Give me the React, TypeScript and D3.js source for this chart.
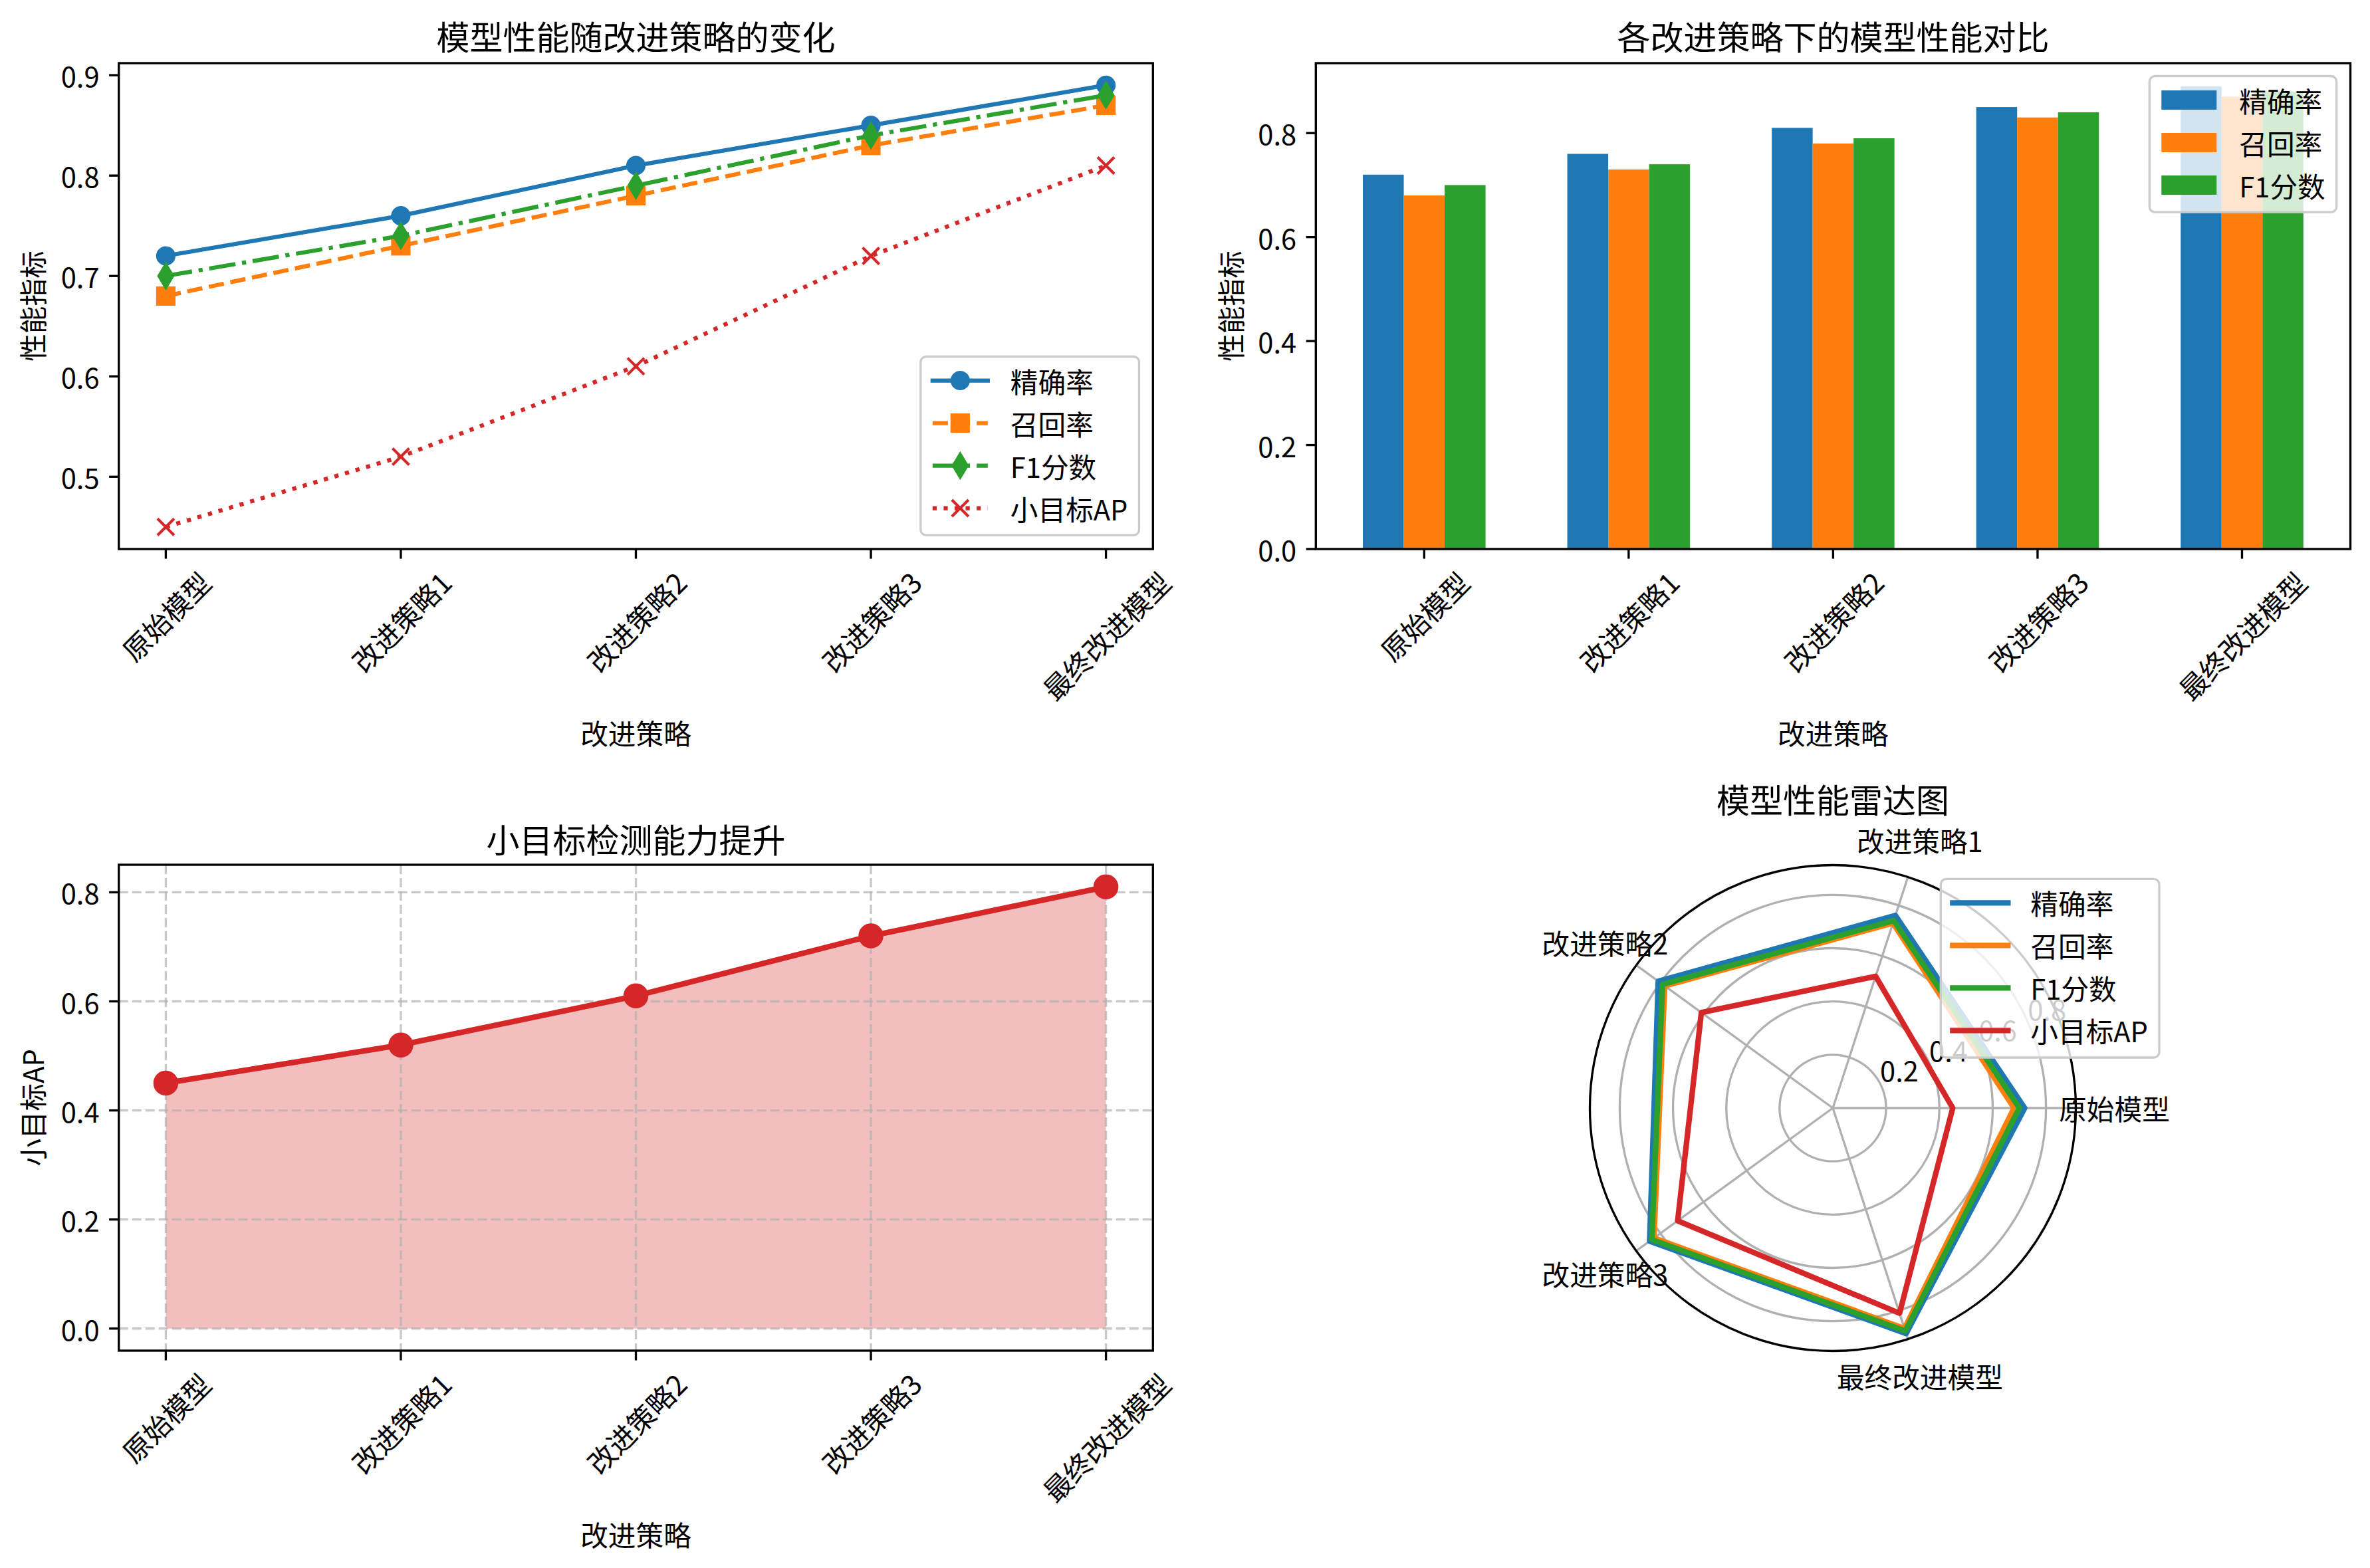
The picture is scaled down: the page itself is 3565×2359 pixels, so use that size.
import React from 'react';
import * as d3 from 'd3';

// ---------------- data ----------------
const categories = ['原始模型', '改进策略1', '改进策略2', '改进策略3', '最终改进模型'];
const precision = [0.72, 0.76, 0.81, 0.85, 0.89];
const recall = [0.68, 0.73, 0.78, 0.83, 0.87];
const f1Score = [0.70, 0.74, 0.79, 0.84, 0.88];
const smallAP = [0.45, 0.52, 0.61, 0.72, 0.81];
const seriesNames = ['精确率', '召回率', 'F1分数', '小目标AP'];
const seriesColors = ['#1f77b4', '#ff7f0e', '#2ca02c', '#d62728'];
const lineYTicks = [0.5, 0.6, 0.7, 0.8, 0.9];
const barYTicks = [0.0, 0.2, 0.4, 0.6, 0.8];
const apYTicks = [0.0, 0.2, 0.4, 0.6, 0.8];
const radarRTicks = [0.2, 0.4, 0.6, 0.8];
const titles = ['模型性能随改进策略的变化', '各改进策略下的模型性能对比', '小目标检测能力提升', '模型性能雷达图'];
const xLabelText = '改进策略';
const yLabels = ['性能指标', '性能指标', '小目标AP'];

// ---------------- style constants ----------------
const FONT = '"Noto Sans CJK SC", "Noto Sans", sans-serif';
const FS = 41.67;
const TFS = 50;
const LW = 6.25;
const SPINE = 3.33;
const TICK = 14.58;
const PAD = 14.58;
const MEW = 4.17;

let _ctx: CanvasRenderingContext2D | null = null;
function tw(s: string, size = FS): number {
  if (!_ctx && typeof document !== 'undefined') {
    _ctx = document.createElement('canvas').getContext('2d');
  }
  if (_ctx) {
    _ctx.font = `${size}px "Noto Sans CJK SC"`;
    return _ctx.measureText(s).width;
  }
  let w = 0;
  for (const ch of s) w += /[\u4e00-\u9fff]/.test(ch) ? size : size * 0.58;
  return w;
}

const fmt = d3.format('.1f');

type Box = { x0: number; x1: number; y0: number; y1: number };
const TL: Box = { x0: 178.7, x1: 1734.3, y0: 95, y1: 826 };
const TR: Box = { x0: 1979.3, x1: 3535.5, y0: 95, y1: 826 };
const BL: Box = { x0: 178.7, x1: 1734.3, y0: 1301, y1: 2032 };
const RADAR = { cx: 2757, cy: 1667, R: 365.5 };

function Marker({ type, x, y, color, size }: { type: string; x: number; y: number; color: string; size: number }) {
  if (type === 'o') return <circle cx={x} cy={y} r={size / 2} fill={color} stroke={color} strokeWidth={MEW} />;
  if (type === 's')
    return <rect x={x - size / 2} y={y - size / 2} width={size} height={size} fill={color} stroke={color} strokeWidth={MEW} strokeLinejoin="miter" />;
  if (type === 'd') {
    const h = size * 0.7071;
    const w = size * 0.4243;
    return <path d={`M${x},${y - h}L${x + w},${y}L${x},${y + h}L${x - w},${y}Z`} fill={color} stroke={color} strokeWidth={MEW} strokeLinejoin="miter" />;
  }
  if (type === 'x') {
    const s = size / 2;
    return <path d={`M${x - s},${y - s}L${x + s},${y + s}M${x - s},${y + s}L${x + s},${y - s}`} fill="none" stroke={color} strokeWidth={MEW} />;
  }
  return null;
}

function Frame({ b }: { b: Box }) {
  return <rect x={b.x0} y={b.y0} width={b.x1 - b.x0} height={b.y1 - b.y0} fill="none" stroke="#000" strokeWidth={SPINE} />;
}

function XAxis({ b, xs }: { b: Box; xs: number[] }) {
  return (
    <g>
      {xs.map((x, i) => {
        const w = tw(categories[i]);
        const cy = b.y1 + TICK + PAD + (w + 35) * 0.35355;
        return (
          <g key={i}>
            <line x1={x} x2={x} y1={b.y1} y2={b.y1 + TICK} stroke="#000" strokeWidth={SPINE} />
            <text transform={`translate(${x},${cy}) rotate(-45)`} textAnchor="middle" dominantBaseline="central" fontSize={FS}>
              {categories[i]}
            </text>
          </g>
        );
      })}
      <text x={(b.x0 + b.x1) / 2} y={b.y1 + 276} textAnchor="middle" dominantBaseline="central" fontSize={FS}>
        {xLabelText}
      </text>
    </g>
  );
}

function YAxis({ b, y, ticks, label, labelX }: { b: Box; y: d3.ScaleLinear<number, number>; ticks: number[]; label: string; labelX: number }) {
  return (
    <g>
      {ticks.map((t, i) => (
        <g key={i}>
          <line x1={b.x0 - TICK} x2={b.x0} y1={y(t)} y2={y(t)} stroke="#000" strokeWidth={SPINE} />
          <text x={b.x0 - TICK - PAD} y={y(t)} textAnchor="end" dominantBaseline="central" fontSize={FS}>
            {fmt(t)}
          </text>
        </g>
      ))}
      <text transform={`translate(${labelX},${(b.y0 + b.y1) / 2}) rotate(-90)`} textAnchor="middle" dominantBaseline="central" fontSize={FS}>
        {label}
      </text>
    </g>
  );
}

type LegendEntry = { label: string; color: string; kind: 'line' | 'bar'; dash?: string; marker?: string; lw?: number };

function Legend({ right, top, bottom, entries }: { right: number; top?: number; bottom?: number; entries: LegendEntry[] }) {
  const maxW = Math.max(...entries.map((e) => tw(e.label)));
  const width = 135 + maxW + 17;
  const height = 36 + (entries.length - 1) * 64 + 40.7;
  const left = right - width;
  const t = top !== undefined ? top : (bottom as number) - height;
  return (
    <g>
      <rect x={left} y={t} width={width} height={height} rx={8.3} ry={8.3} fill="#fff" fillOpacity={0.8} stroke="#cccccc" strokeWidth={3.33} />
      {entries.map((e, i) => {
        const cy = t + 36 + i * 64;
        const hx0 = left + 18;
        const hx1 = left + 101;
        return (
          <g key={i}>
            {e.kind === 'bar' ? (
              <rect x={hx0} y={cy - 14.5} width={83} height={29} fill={e.color} />
            ) : (
              <>
                <line
                  x1={hx0}
                  x2={hx1}
                  y1={cy}
                  y2={cy}
                  stroke={e.color}
                  strokeWidth={e.lw ?? LW}
                  strokeDasharray={e.dash}
                  strokeLinecap={e.dash ? 'butt' : 'square'}
                />
                {e.marker && <Marker type={e.marker} x={(hx0 + hx1) / 2} y={cy} color={e.color} size={25} />}
              </>
            )}
            <text x={left + 135} y={cy} dominantBaseline="central" fontSize={FS}>
              {e.label}
            </text>
          </g>
        );
      })}
    </g>
  );
}

// ---------------- panel 1: lines ----------------
function LinePanel() {
  const b = TL;
  const x = d3.scaleLinear().domain([-0.2, 4.2]).range([b.x0, b.x1]);
  const y = d3.scaleLinear().domain([0.428, 0.912]).range([b.y1, b.y0]);
  const data = [precision, recall, f1Score, smallAP];
  const dashes = [undefined, '23.1,10', '40,10,6.25,10', '6.25,10.3'];
  const markers = ['o', 's', 'd', 'x'];
  const line = d3
    .line<number>()
    .x((_, i) => x(i))
    .y((d) => y(d));
  const xs = categories.map((_, i) => x(i));
  return (
    <g>
      {data.map((s, k) => (
        <g key={k}>
          <path
            d={line(s) as string}
            fill="none"
            stroke={seriesColors[k]}
            strokeWidth={LW}
            strokeDasharray={dashes[k]}
            strokeLinejoin="round"
            strokeLinecap={dashes[k] ? 'butt' : 'square'}
          />
          {s.map((v, i) => (
            <Marker key={i} type={markers[k]} x={x(i)} y={y(v)} color={seriesColors[k]} size={25} />
          ))}
        </g>
      ))}
      <Frame b={b} />
      <XAxis b={b} xs={xs} />
      <YAxis b={b} y={y} ticks={lineYTicks} label={yLabels[0]} labelX={48} />
      <text x={(b.x0 + b.x1) / 2} y={b.y0 - 42} textAnchor="middle" dominantBaseline="central" fontSize={TFS}>
        {titles[0]}
      </text>
      <Legend
        right={b.x1 - 20.8}
        bottom={b.y1 - 20.8}
        entries={seriesNames.map((n, k) => ({ label: n, color: seriesColors[k], kind: 'line', dash: dashes[k], marker: markers[k] }))}
      />
    </g>
  );
}

// ---------------- panel 2: bars ----------------
function BarPanel() {
  const b = TR;
  const x = d3.scaleLinear().domain([-0.53, 4.53]).range([b.x0, b.x1]);
  const y = d3.scaleLinear().domain([0, 0.9345]).range([b.y1, b.y0]);
  const data = [precision, recall, f1Score];
  const offsets = [-0.2, 0, 0.2];
  const bw = 0.2;
  const xs = categories.map((_, i) => x(i));
  return (
    <g>
      {data.map((s, k) =>
        s.map((v, i) => (
          <rect
            key={`${k}-${i}`}
            x={x(i + offsets[k] - bw / 2)}
            y={y(v)}
            width={x(i + offsets[k] + bw / 2) - x(i + offsets[k] - bw / 2)}
            height={y(0) - y(v)}
            fill={seriesColors[k]}
          />
        ))
      )}
      <Frame b={b} />
      <XAxis b={b} xs={xs} />
      <YAxis b={b} y={y} ticks={barYTicks} label={yLabels[1]} labelX={1850} />
      <text x={(b.x0 + b.x1) / 2} y={b.y0 - 42} textAnchor="middle" dominantBaseline="central" fontSize={TFS}>
        {titles[1]}
      </text>
      <Legend
        right={b.x1 - 20.8}
        top={b.y0 + 19.5}
        entries={seriesNames.slice(0, 3).map((n, k) => ({ label: n, color: seriesColors[k], kind: 'bar' }))}
      />
    </g>
  );
}

// ---------------- panel 3: area ----------------
function AreaPanel() {
  const b = BL;
  const x = d3.scaleLinear().domain([-0.2, 4.2]).range([b.x0, b.x1]);
  const y = d3.scaleLinear().domain([-0.0405, 0.8505]).range([b.y1, b.y0]);
  const area = d3
    .area<number>()
    .x((_, i) => x(i))
    .y0(y(0))
    .y1((d) => y(d));
  const line = d3
    .line<number>()
    .x((_, i) => x(i))
    .y((d) => y(d));
  const xs = categories.map((_, i) => x(i));
  const gridColor = '#b0b0b0';
  return (
    <g>
      <path d={area(smallAP) as string} fill="#d62728" fillOpacity={0.3} />
      <g stroke={gridColor} strokeOpacity={0.7} strokeWidth={3.33} strokeDasharray="14,6">
        {xs.map((gx, i) => (
          <line key={`gx${i}`} x1={gx} x2={gx} y1={b.y0} y2={b.y1} />
        ))}
        {apYTicks.map((t, i) => (
          <line key={`gy${i}`} x1={b.x0} x2={b.x1} y1={y(t)} y2={y(t)} />
        ))}
      </g>
      <path d={line(smallAP) as string} fill="none" stroke="#d62728" strokeWidth={8.33} strokeLinejoin="round" strokeLinecap="square" />
      {smallAP.map((v, i) => (
        <Marker key={i} type="o" x={x(i)} y={y(v)} color="#d62728" size={33.3} />
      ))}
      <Frame b={b} />
      <XAxis b={b} xs={xs} />
      <YAxis b={b} y={y} ticks={apYTicks} label={yLabels[2]} labelX={48} />
      <text x={(b.x0 + b.x1) / 2} y={b.y0 - 40} textAnchor="middle" dominantBaseline="central" fontSize={TFS}>
        {titles[2]}
      </text>
    </g>
  );
}

// ---------------- panel 4: radar ----------------
function RadarPanel() {
  const { cx, cy, R } = RADAR;
  const r = d3.scaleLinear().domain([0, 0.912]).range([0, R]);
  const n = categories.length;
  const theta = (i: number) => (i * 2 * Math.PI) / n;
  const pt = (i: number, rad: number) => [cx + rad * Math.cos(theta(i)), cy - rad * Math.sin(theta(i))];
  const radial = d3
    .lineRadial<number>()
    .angle((_, i) => Math.PI / 2 - theta(i))
    .radius((d) => r(d))
    .curve(d3.curveLinearClosed);
  const data = [precision, recall, f1Score, smallAP];
  const grid = '#b0b0b0';
  const labelR = R + 58;
  const rlabAng = (22.5 * Math.PI) / 180;
  return (
    <g>
      {radarRTicks.map((t, i) => (
        <circle key={i} cx={cx} cy={cy} r={r(t)} fill="none" stroke={grid} strokeWidth={3.33} />
      ))}
      {categories.map((_, i) => {
        const [px, py] = pt(i, R);
        return <line key={i} x1={cx} y1={cy} x2={px} y2={py} stroke={grid} strokeWidth={3.33} />;
      })}
      <circle cx={cx} cy={cy} r={R} fill="none" stroke="#000" strokeWidth={SPINE} />
      {radarRTicks.map((t, i) => {
        const px = cx + r(t) * Math.cos(rlabAng);
        const py = cy - r(t) * Math.sin(rlabAng);
        return (
          <text key={i} x={px - 3} y={py - 9} fontSize={FS}>
            {fmt(t)}
          </text>
        );
      })}
      {data.map((s, k) => (
        <path key={k} transform={`translate(${cx},${cy})`} d={radial(s) as string} fill="none" stroke={seriesColors[k]} strokeWidth={8.33} strokeLinejoin="round" />
      ))}
      {categories.map((c, i) => {
        const [px, py] = pt(i, labelR);
        return (
          <text key={i} x={px} y={py} textAnchor="middle" dominantBaseline="central" fontSize={FS}>
            {c}
          </text>
        );
      })}
      <text x={cx} y={1201} textAnchor="middle" dominantBaseline="central" fontSize={TFS}>
        {titles[3]}
      </text>
      <Legend
        right={3248}
        top={1322.3}
        entries={seriesNames.map((nm, k) => ({ label: nm, color: seriesColors[k], kind: 'line', lw: 8.33 }))}
      />
    </g>
  );
}

export default function App() {
  return (
    <svg
      width={3565}
      height={2359}
      viewBox="0 0 3565 2359"
      style={{ position: 'absolute', left: 0, top: 0, background: '#fff' }}
      fontFamily={FONT}
    >
      <rect x={0} y={0} width={3565} height={2359} fill="#fff" />
      <LinePanel />
      <BarPanel />
      <AreaPanel />
      <RadarPanel />
    </svg>
  );
}
